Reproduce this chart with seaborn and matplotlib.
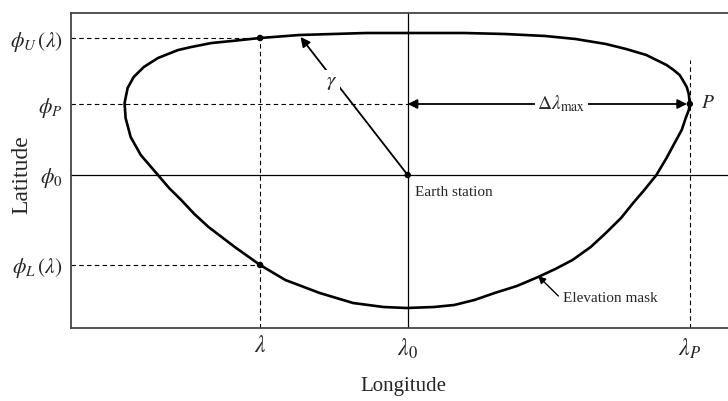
import numpy as np
import pandas as pd
import matplotlib
matplotlib.use("Agg")
import matplotlib.pyplot as plt
import seaborn as sns

# ---- data (arbitrary units: lon relative to lambda0, lat relative to phi0)
curve_lon = [279, 278, 276, 272, 269, 263, 256, 246, 236, 216, 196, 166, 136, 96, 56, 26, 1,
             -41, -74, -107, -146, -174, -194, -214, -227, -247, -261, -271, -277, -280,
             -279, -274, -264, -247, -236, -224, -211, -197, -184, -171, -146, -121, -87,
             -54, -24, -1, 26, 46, 66, 86, 108, 129, 146, 163, 181, 196, 211, 223, 234,
             246, 256, 264, 271, 275, 278, 279]
curve_lat = [71, 81, 88, 95, 100, 105, 110, 115, 120, 126, 131, 136, 139, 141, 142, 142, 142,
             142, 141, 140, 137, 134, 132, 128, 125, 117, 108, 98, 87, 72,
             57, 38, 20, 0, -13, -25, -39, -52, -62, -72, -90, -105, -118,
             -128, -132, -133, -132, -130, -125, -118, -111, -102, -94, -85, -72, -58, -43, -28, -15,
             0, 17, 32, 45, 57, 65, 71]

lon_ticks = [-146, 0, 279]
lon_labels = [r"$\lambda$", r"$\lambda_0$", r"$\lambda_P$"]
lat_ticks = [137, 71, 0, -90]
lat_labels = [r"$\phi_U\,(\lambda)$", r"$\phi_P$", r"$\phi_0$", r"$\phi_L\,(\lambda)$"]

dot_lon = [-146, -146, 0, 279]
dot_lat = [137, -90, 0, 71]

xlim = (-333, 324)
ylim = (-153, 162)

sns.set_theme(style="white")
plt.rcParams["font.family"] = ["Liberation Serif", "DejaVu Serif"]
plt.rcParams["mathtext.fontset"] = "stix"

fig = plt.figure(figsize=(7.28, 4.01), dpi=100)
ax = fig.add_axes([71 / 728, 1 - 328 / 401, 1 - 71 / 728 + 0.01, (328 - 13) / 401])

df = pd.DataFrame({"lon": curve_lon, "lat": curve_lat})
sns.lineplot(data=df, x="lon", y="lat", sort=False, estimator=None, color="black",
             linewidth=1.9, ax=ax, solid_joinstyle="round", solid_capstyle="round")

dots = pd.DataFrame({"lon": dot_lon, "lat": dot_lat})
sns.scatterplot(data=dots, x="lon", y="lat", color="black", s=22, edgecolor="none", ax=ax, zorder=5)

# reference lines
ax.axhline(0, color="black", linewidth=0.9, zorder=1)
ax.axvline(0, color="black", linewidth=0.9, zorder=1)
dash = dict(color="black", linewidth=0.8, linestyle=(0, (4, 3)), zorder=1)
ax.plot([xlim[0], lon_ticks[0]], [lat_ticks[0], lat_ticks[0]], **dash)
ax.plot([xlim[0], 0], [lat_ticks[1], lat_ticks[1]], **dash)
ax.plot([xlim[0], lon_ticks[0]], [lat_ticks[3], lat_ticks[3]], **dash)
ax.plot([lon_ticks[0], lon_ticks[0]], [ylim[0], lat_ticks[0]], **dash)
ax.plot([lon_ticks[2], lon_ticks[2]], [ylim[0], 115], **dash)

# annotations
ax.annotate("", xy=(-106, 138), xytext=(0, 0),
            arrowprops=dict(arrowstyle="-|>", color="black", lw=1.3, mutation_scale=14,
                            shrinkA=0, shrinkB=0))
ax.text(-75, 93, r"$\gamma$", fontsize=15, ha="center", va="center",
        bbox=dict(facecolor="white", edgecolor="none", pad=1.5), zorder=6)

ax.annotate("", xy=(279, 71), xytext=(0, 71),
            arrowprops=dict(arrowstyle="<|-|>", color="black", lw=1.3, mutation_scale=14,
                            shrinkA=0, shrinkB=2))
ax.text(152, 71, r"$\Delta\lambda_{\max}$", fontsize=14, ha="center", va="center",
        bbox=dict(facecolor="white", edgecolor="none", pad=2), zorder=6)

ax.annotate("", xy=(129, -101), xytext=(149, -121),
            arrowprops=dict(arrowstyle="-|>", color="black", lw=1.0, mutation_scale=11,
                            shrinkA=0, shrinkB=0))
ax.text(154, -123, "Elevation mask", fontsize=11, ha="left", va="center")
ax.text(7, -17, "Earth station", fontsize=11, ha="left", va="center")
ax.text(290, 71, r"$P$", fontsize=14, ha="left", va="center")

ax.set_xlim(*xlim)
ax.set_ylim(*ylim)
ax.set_xticks(lon_ticks)
ax.set_xticklabels(lon_labels, fontsize=17)
ax.set_yticks(lat_ticks)
ax.set_yticklabels(lat_labels, fontsize=15.5)
ax.tick_params(axis="both", length=0, pad=6)
ax.set_xlabel("Longitude", fontsize=15, labelpad=12)
ax.set_ylabel("")
fig.text(22 / 728, 1 - 175 / 401, "Latitude", fontsize=17, rotation=90,
         ha="center", va="center")

for s in ["left", "top", "bottom"]:
    ax.spines[s].set_visible(True)
    ax.spines[s].set_color("#444444")
    ax.spines[s].set_linewidth(1.3)
ax.spines["right"].set_visible(False)

fig.savefig("out.png", dpi=100)
